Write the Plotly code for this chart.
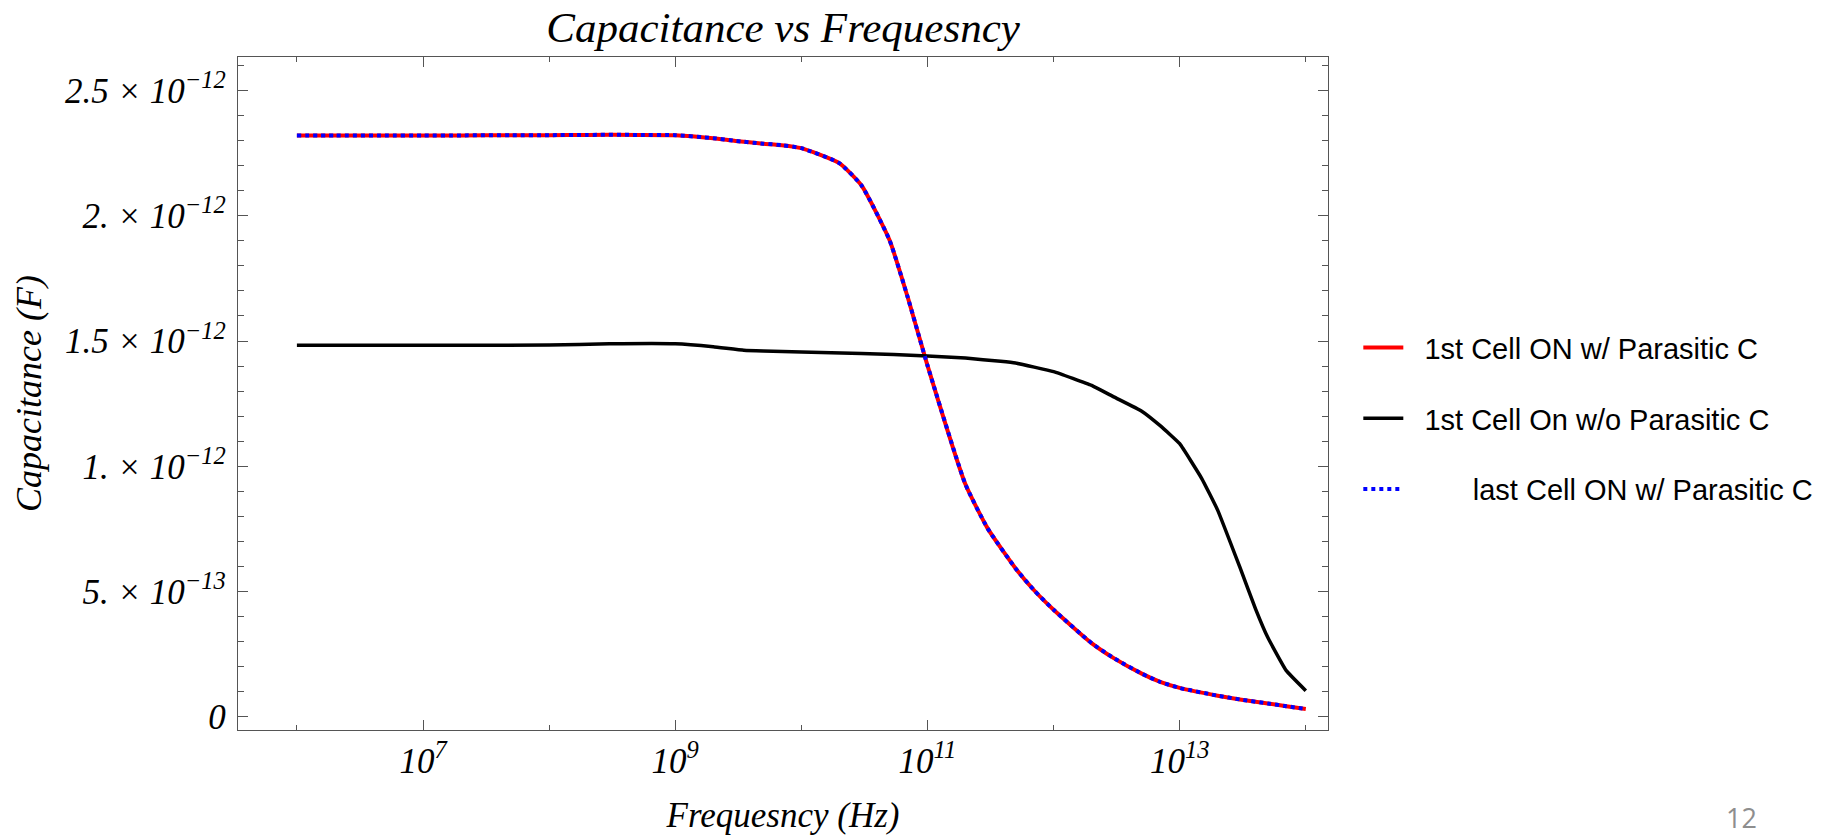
import plotly.graph_objects as go

# ---------------- data ----------------
freq_red = [1e6, 2e6, 5e6, 1e7, 2e7, 5e7, 1e8, 2e8, 5e8, 1e9, 2e9, 3e9, 5e9, 7e9,
            1e10, 2e10, 3e10, 5e10, 7e10, 1e11, 2e11, 3e11, 5e11, 7e11,
            1e12, 2e12, 3e12, 5e12, 7e12, 1e13, 2e13, 3e13, 5e13, 7e13, 1e14]
cap_first_par = [2.321, 2.321, 2.321, 2.321, 2.321, 2.322, 2.322, 2.323, 2.323, 2.322,
                 2.310, 2.299, 2.288, 2.282, 2.270, 2.210, 2.121, 1.903, 1.672,
                 1.403, 0.928, 0.752, 0.592, 0.505, 0.427, 0.294, 0.234, 0.172,
                 0.139, 0.115, 0.084, 0.069, 0.053, 0.042, 0.031]  # x 1e-12 F
cap_last_par = list(cap_first_par)  # x 1e-12 F (identical curve)

freq_black = [1e6, 1e7, 1e8, 3e8, 1e9, 2e9, 3.5e9, 5e9, 1e10, 3e10, 5.4e10, 1e11,
              2e11, 3.8e11, 5e11, 1e12, 2e12, 3e12, 5e12, 7e12, 1e13, 1.5e13,
              2e13, 3e13, 4e13, 5e13, 7e13, 1e14]
cap_first_nopar = [1.483, 1.483, 1.484, 1.489, 1.489, 1.477, 1.463, 1.460, 1.456,
                   1.450, 1.446, 1.440, 1.432, 1.419, 1.412, 1.378, 1.323, 1.277,
                   1.220, 1.162, 1.090, 0.950, 0.825, 0.597, 0.430, 0.316, 0.184,
                   0.104]  # x 1e-12 F

NB = "\u00a0"
names = [NB * 2 + "1st Cell ON w/ Parasitic C",
         NB * 2 + "1st Cell On w/o Parasitic C",
         NB * 8 + "last Cell ON w/ Parasitic C"]

x_major = [1e7, 1e9, 1e11, 1e13]
x_major_text = ["10<sup>7</sup>", "10<sup>9</sup>", "10<sup>11</sup>", "10<sup>13</sup>"]
x_minor = [1e6, 1e8, 1e10, 1e12, 1e14]

y_major = [0, 5e-13, 1e-12, 1.5e-12, 2e-12, 2.5e-12]
y_major_text = ["0", "5. \u00d7 10<sup>\u221213</sup>", "1. \u00d7 10<sup>\u221212</sup>",
                "1.5 \u00d7 10<sup>\u221212</sup>", "2. \u00d7 10<sup>\u221212</sup>",
                "2.5 \u00d7 10<sup>\u221212</sup>"]

# ---------------- figure ----------------
SERIF = "Liberation Serif"
W, H = 1835, 835
L, R, T, B = 238.4, 1327.7, 56.7, 730.0

fig = go.Figure()
fig.add_trace(go.Scatter(x=freq_red, y=[v * 1e-12 for v in cap_first_par], mode="lines",
                         name=names[0], legendgroup="a",
                         line=dict(color="#ff0000", width=4, shape="spline", smoothing=0.5)))
fig.add_trace(go.Scatter(x=freq_black, y=[v * 1e-12 for v in cap_first_nopar], mode="lines",
                         name=names[1], legendgroup="b",
                         line=dict(color="#000000", width=3.5, shape="spline", smoothing=0.3)))
fig.add_trace(go.Scatter(x=freq_red, y=[v * 1e-12 for v in cap_last_par], mode="lines",
                         name=names[2], legendgroup="c",
                         line=dict(color="#0000ff", width=4, dash="dot",
                                   shape="spline", smoothing=0.5)))

axis_common = dict(
    showgrid=False, zeroline=False, showline=True, linecolor="#555555", linewidth=1.3,
    mirror="ticks", ticks="inside", tickcolor="#555555", tickwidth=1.2,
)

fig.update_xaxes(
    type="log", range=[5.533, 14.176], **axis_common,
    tickmode="array", tickvals=x_major, ticktext=x_major_text, ticklen=10,
    tickfont=dict(family=SERIF, size=35, color="black", style="italic"),
    minor=dict(tickmode="array", tickvals=x_minor, ticklen=5, ticks="inside",
               tickcolor="#555555", tickwidth=1.2, showgrid=False),
    title=dict(text="Frequesncy (Hz)", standoff=27,
               font=dict(family=SERIF, size=35, color="black", style="italic")),
)
fig.update_yaxes(
    range=[-0.053e-12, 2.634e-12], **axis_common,
    tickmode="array", tickvals=y_major, ticktext=y_major_text, ticklen=10,
    tickfont=dict(family=SERIF, size=35, color="black", style="italic"),
    ticklabelstandoff=4,
    minor=dict(dtick=1e-13, tick0=0, ticklen=6, ticks="inside",
               tickcolor="#555555", tickwidth=1.2, showgrid=False),
    title=dict(text="Capacitance (F)", standoff=12,
               font=dict(family=SERIF, size=36, color="black", style="italic")),
)

fig.update_layout(
    width=W, height=H,
    margin=dict(l=L, r=W - R, t=T, b=H - B, autoexpand=False),
    paper_bgcolor="white", plot_bgcolor="white",
    title=dict(text="Capacitance vs Frequesncy", x=(L + R) / 2 / W, xanchor="center",
               xref="container", yref="container", y=1 - 27 / H, yanchor="middle",
               font=dict(family=SERIF, size=43, color="black", style="italic")),
    showlegend=True,
    legend=dict(x=(1358 - L) / (R - L), xanchor="left", y=(B - 322) / (B - T), yanchor="top",
                font=dict(family="Liberation Sans", size=29, color="black"),
                bgcolor="rgba(0,0,0,0)", borderwidth=0, tracegroupgap=30, itemwidth=40),
    annotations=[dict(text="12", xref="paper", yref="paper",
                      x=(1741 - L) / (R - L), y=(B - 818) / (B - T),
                      xanchor="center", yanchor="middle", showarrow=False,
                      font=dict(family="Open Sans", size=27, color="#8e8e8e"))],
)

fig.write_html("out.html")
